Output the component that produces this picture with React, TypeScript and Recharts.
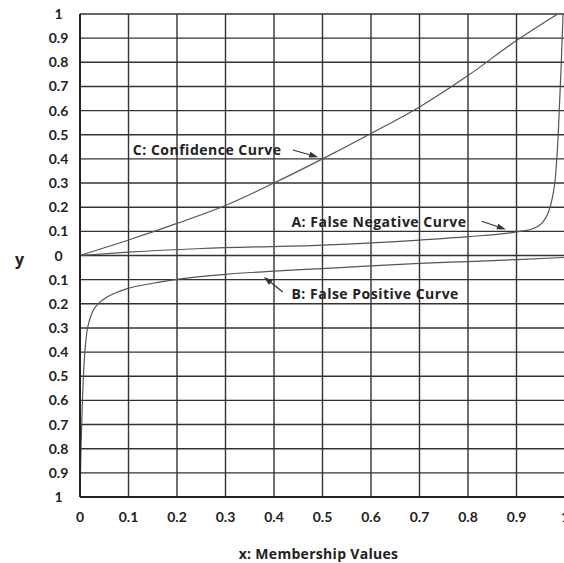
import { LineChart, Line, XAxis, YAxis, CartesianGrid, ReferenceLine, ReferenceDot } from "recharts";

// grid / tick values
const xTicks = [0, 0.1, 0.2, 0.3, 0.4, 0.5, 0.6, 0.7, 0.8, 0.9, 1];
const yTicks = [-1, -0.9, -0.8, -0.7, -0.6, -0.5, -0.4, -0.3, -0.2, -0.1, 0, 0.1, 0.2, 0.3, 0.4, 0.5, 0.6, 0.7, 0.8, 0.9, 1];

// A: false negative curve
const curveA = [
  { x: 0, y: 0 }, { x: 0.1, y: 0.014 }, { x: 0.25, y: 0.029 }, { x: 0.5, y: 0.043 },
  { x: 0.7, y: 0.064 }, { x: 0.8, y: 0.078 }, { x: 0.9, y: 0.098 }, { x: 0.935, y: 0.112 },
  { x: 0.955, y: 0.14 }, { x: 0.966, y: 0.18 }, { x: 0.974, y: 0.24 }, { x: 0.98, y: 0.32 },
  { x: 0.986, y: 0.5 }, { x: 0.992, y: 0.78 }, { x: 0.996, y: 1 },
];

// B: false positive curve
const curveB = [
  { x: 0, y: -1 }, { x: 0.002, y: -0.8 }, { x: 0.005, y: -0.6 }, { x: 0.007, y: -0.5 },
  { x: 0.01, y: -0.4 }, { x: 0.014, y: -0.32 }, { x: 0.02, y: -0.265 }, { x: 0.027, y: -0.228 },
  { x: 0.04, y: -0.195 }, { x: 0.055, y: -0.173 }, { x: 0.075, y: -0.153 }, { x: 0.096, y: -0.138 },
  { x: 0.15, y: -0.115 }, { x: 0.2, y: -0.099 }, { x: 0.3, y: -0.078 }, { x: 0.4, y: -0.065 },
  { x: 0.5, y: -0.054 }, { x: 0.6, y: -0.043 }, { x: 0.7, y: -0.033 }, { x: 0.8, y: -0.025 },
  { x: 0.9, y: -0.017 }, { x: 1, y: -0.008 },
];

// C: confidence curve
const curveC = [
  { x: 0, y: 0 }, { x: 0.1, y: 0.064 }, { x: 0.2, y: 0.133 }, { x: 0.3, y: 0.207 },
  { x: 0.4, y: 0.3 }, { x: 0.5, y: 0.4 }, { x: 0.6, y: 0.505 }, { x: 0.7, y: 0.615 },
  { x: 0.8, y: 0.745 }, { x: 0.9, y: 0.89 }, { x: 0.985, y: 1 },
];

// annotation labels + arrows (data coords)
const notes = [
  { text: "C: Confidence Curve", x: 0.109, y: 0.437, from: { x: 0.439, y: 0.437 }, to: { x: 0.491, y: 0.407 } },
  { text: "A: False Negative Curve", x: 0.436, y: 0.14, from: { x: 0.828, y: 0.142 }, to: { x: 0.878, y: 0.108 } },
  { text: "B: False Positive Curve", x: 0.436, y: -0.158, from: { x: 0.418, y: -0.151 }, to: { x: 0.379, y: -0.089 } },
];

const FONT = "Lato, 'Open Sans', sans-serif";
const NOTE_FONT = "'Open Sans', Lato, sans-serif";
const INK = "#222";

const Arrow = (p: any) => {
  const { x1, y1, x2, y2 } = p;
  const a = Math.atan2(y2 - y1, x2 - x1);
  const len = 9;
  const w = 3;
  const bx = x2 - len * Math.cos(a);
  const by = y2 - len * Math.sin(a);
  const pts = [
    `${x2},${y2}`,
    `${bx + w * Math.sin(a)},${by - w * Math.cos(a)}`,
    `${bx - w * Math.sin(a)},${by + w * Math.cos(a)}`,
  ].join(" ");
  return (
    <g>
      <line x1={x1} y1={y1} x2={bx} y2={by} stroke="#333" strokeWidth={1.2} />
      <polygon points={pts} fill="#333" />
    </g>
  );
};

const YTick = (p: any) => (
  <text x={p.x - 21.5} y={p.y} dy="0.36em" textAnchor="middle" fontFamily={FONT} fontWeight={700} fontSize={14} fill={INK}>
    {String(Math.abs(p.payload.value))}
  </text>
);

export default function App() {
  return (
    <div style={{ position: "absolute", left: 0, top: 0, width: 564, height: 563, overflow: "hidden", background: "#fff" }}>
      <LineChart width={572} height={563} margin={{ top: 14, right: 7, bottom: 0, left: 0 }}>
        <CartesianGrid stroke="#333" strokeWidth={1.4} />
        <XAxis
          type="number"
          dataKey="x"
          domain={[0, 1]}
          ticks={xTicks}
          interval={0}
          allowDataOverflow
          height={66}
          axisLine={{ stroke: "#222", strokeWidth: 2 }}
          tickLine={false}
          tickSize={6}
          tickMargin={9}
          tick={{ fontFamily: FONT, fontWeight: 700, fontSize: 14, fill: INK }}
          label={{ value: "x: Membership Values", position: "insideBottom", offset: 4, dx: -4, fontFamily: NOTE_FONT, fontWeight: 700, fontSize: 14, letterSpacing: 0.3, fill: INK }}
        />
        <YAxis
          type="number"
          dataKey="y"
          domain={[-1, 1]}
          ticks={yTicks}
          interval={0}
          allowDataOverflow
          width={80}
          axisLine={{ stroke: "#222", strokeWidth: 2 }}
          tickLine={false}
          tickSize={0}
          tickMargin={0}
          tick={<YTick />}
          label={{ value: "y", position: "insideLeft", offset: 15, dy: 4, fontFamily: NOTE_FONT, fontWeight: 700, fontSize: 16, fill: INK }}
        />
        <Line data={curveC} dataKey="y" type="monotone" stroke="#555" strokeWidth={1.2} dot={false} isAnimationActive={false} />
        <Line data={curveA} dataKey="y" type="monotone" stroke="#555" strokeWidth={1.2} dot={false} isAnimationActive={false} />
        <Line data={curveB} dataKey="y" type="monotone" stroke="#555" strokeWidth={1.2} dot={false} isAnimationActive={false} />
        {notes.map((n) => (
          <ReferenceLine key={n.text + "-arrow"} segment={[n.from, n.to]} shape={(p: any) => <Arrow {...p} />} />
        ))}
        {notes.map((n) => (
          <ReferenceDot
            key={n.text}
            x={n.x}
            y={n.y}
            r={0}
            shape={(p: any) => (
              <text x={p.cx} y={p.cy} dy="0.36em" textAnchor="start" fontFamily={NOTE_FONT} fontWeight={700} fontSize={14} letterSpacing={0.5} fill={INK}>
                {n.text}
              </text>
            )}
          />
        ))}
      </LineChart>
    </div>
  );
}
